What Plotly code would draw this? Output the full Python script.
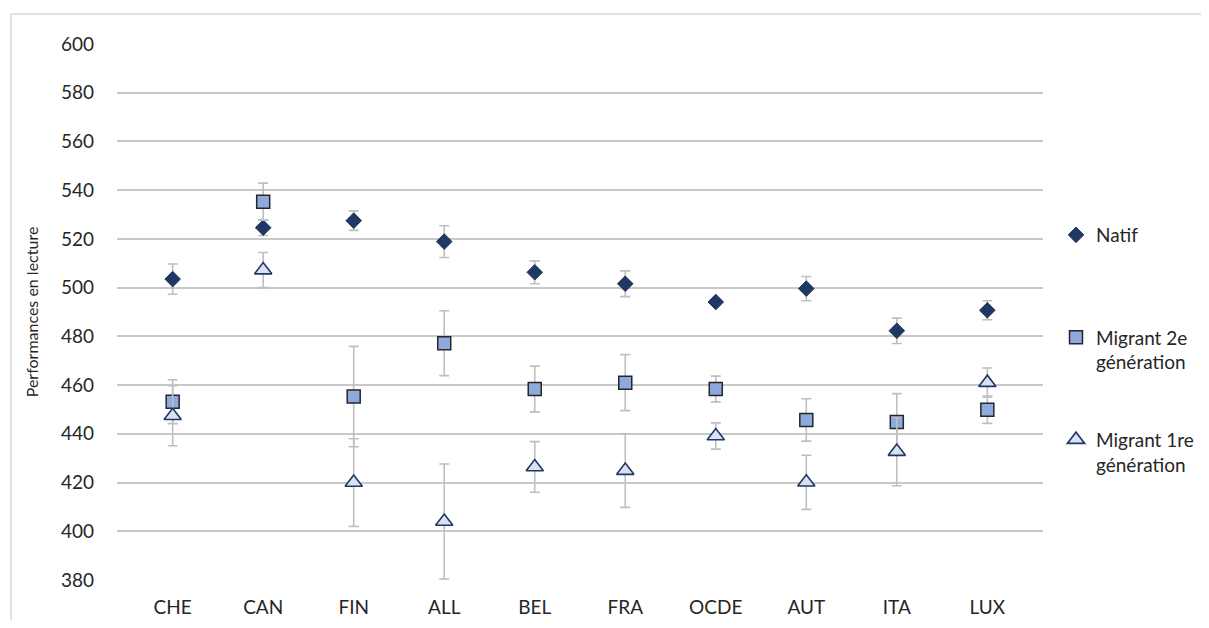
import plotly.graph_objects as go

# Données
pays = ["CHE", "CAN", "FIN", "ALL", "BEL", "FRA", "OCDE", "AUT", "ITA", "LUX"]

natif = [503.5, 524.6, 527.5, 518.9, 506.3, 501.6, 494.1, 499.6, 482.3, 490.7]
natif_err = [6.2, 3.2, 4.0, 6.5, 4.7, 5.3, 0.0, 5.0, 5.2, 3.9]

migrant2 = [453.2, 535.3, 455.3, 477.2, 458.4, 461.0, 458.4, 445.7, 444.9, 449.9]
migrant2_err = [9.0, 7.6, 20.6, 13.3, 9.4, 11.5, 5.3, 8.7, 11.6, 5.6]

migrant1 = [447.4, 507.2, 420.0, 404.0, 426.4, 424.9, 439.1, 420.1, 432.7, 461.0]
migrant1_err = [12.3, 7.2, 18.0, 23.6, 10.4, 15.1, 5.4, 11.1, 14.0, 6.0]

err_style = dict(type="data", symmetric=True, color="#BFBFBF", thickness=1.6, width=5)
police = "Lato, 'Liberation Sans', sans-serif"

fig = go.Figure()

fig.add_trace(go.Scatter(
    x=pays, y=natif, mode="markers", name="Natif<br>\u00a0", legendgroup="a",
    marker=dict(symbol="diamond", size=12, color="#1F3864",
                line=dict(color="#1F3864", width=1)),
    error_y=dict(array=natif_err, **err_style),
))
fig.add_trace(go.Scatter(
    x=pays, y=migrant2, mode="markers", name="Migrant 2e<br>génération", legendgroup="b",
    marker=dict(symbol="square", size=13, color="#8EA9DB",
                line=dict(color="#262626", width=1.5)),
    error_y=dict(array=migrant2_err, **err_style),
))
fig.add_trace(go.Scatter(
    x=pays, y=migrant1, mode="markers", name="Migrant 1re<br>génération", legendgroup="c",
    marker=dict(symbol="triangle-up", size=15, color="#D9E1F2",
                line=dict(color="#1F3864", width=1.6)),
    error_y=dict(array=migrant1_err, **err_style),
))

# la page ajoute 8 px de marge autour de la figure
W, H = 1193, 612
L, R, T, B = 109, 158, 36, 40
pw, ph = W - L - R, H - T - B

bord = dict(color="#D9D9D9", width=1.5)

fig.update_layout(
    width=W, height=H,
    margin=dict(l=L, r=R, t=T, b=B, autoexpand=False),
    plot_bgcolor="white", paper_bgcolor="white",
    font=dict(family=police, size=19, color="#262626"),
    showlegend=True,
    legend=dict(
        x=(1048 - L) / pw, y=1 - (208 - T) / ph, xanchor="left", yanchor="top",
        font=dict(size=19), tracegroupgap=50, valign="top",
        itemwidth=30, bgcolor="rgba(0,0,0,0)",
    ),
    xaxis=dict(
        showgrid=False, zeroline=False, showline=False, ticks="",
        tickfont=dict(size=19), ticklabelstandoff=14,
    ),
    yaxis=dict(
        range=[380, 600], dtick=20, showgrid=True, gridcolor="#C8C8C8", gridwidth=1.5,
        zeroline=False, showline=False, ticks="", ticklabelstandoff=22,
        tickfont=dict(size=19),
        title=dict(text="Performances en lecture", font=dict(size=16), standoff=18),
    ),
    shapes=[
        dict(type="line", xref="paper", yref="paper",
             x0=(3 - L) / pw, x1=(W - L) / pw,
             y0=1 - (6 - T) / ph, y1=1 - (6 - T) / ph, line=bord, layer="below"),
        dict(type="line", xref="paper", yref="paper",
             x0=(3 - L) / pw, x1=(3 - L) / pw,
             y0=1 - (6 - T) / ph, y1=1 - (H - T) / ph, line=bord, layer="below"),
    ],
)

fig.write_html("out.html")
